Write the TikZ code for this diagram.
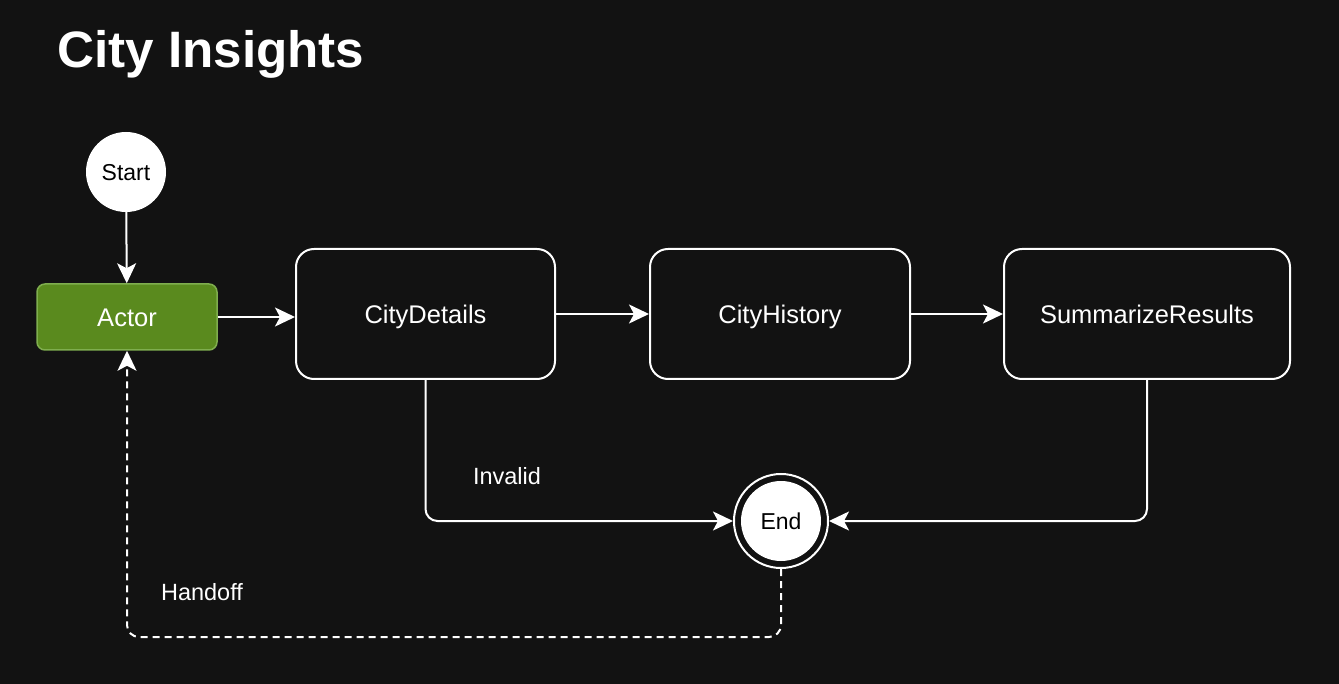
\documentclass[tikz,border=0pt]{standalone}
\usepackage{fontspec}
\setmainfont{Liberation Sans}
\usetikzlibrary{arrows.meta,positioning}

\definecolor{bgdark}{HTML}{121212}
\definecolor{actorfill}{HTML}{5A8A1E}
\definecolor{actorline}{HTML}{7FAE4E}

\tikzset{
  stepbox/.style={draw=white, line width=2pt, rounded corners=18pt, minimum height=130pt,
    text=white, text height=18.3pt, text depth=0pt, font=\fontsize{25.5}{30}\selectfont},
  roundnode/.style={circle, fill=white, inner sep=0pt, text=black, text height=16.5pt, text depth=0pt,
    font=\fontsize{23}{27}\selectfont},
  flow/.style={draw=white, line width=2pt, -{Stealth[length=20pt, width=19pt, inset=5pt]}},
  lbl/.style={text=white, text height=16.8pt, text depth=0pt, font=\fontsize{23.5}{28}\selectfont},
}

\begin{document}
\begin{tikzpicture}[x=1pt, y=-1pt]
\fill[bgdark] (0,0) rectangle (1339,684);
\node[anchor=base west, inner sep=0pt, text=white, font=\bfseries\fontsize{51.2}{60}\selectfont] (title) at (57,68) {City Insights};

% start and actor
\node[roundnode, minimum size=80pt] (start) at (126,172) {Start};
\node[draw=actorline, fill=actorfill, line width=1.5pt, rounded corners=8pt, minimum width=180pt, minimum height=66pt,
  text=white, text height=18.3pt, text depth=0pt, font=\fontsize{25.5}{30}\selectfont] (actor) at (127,317) {Actor};

% the three steps
\node[stepbox, minimum width=259pt] (details) at (425.5,314) {CityDetails};
\node[stepbox, minimum width=260pt] (history) at (780,314) {CityHistory};
\node[stepbox, minimum width=286pt] (summary) at (1147,314) {SummarizeResults};

% end, with its ring
\node[roundnode, minimum size=80pt] (end) at (781,521) {End};
\node[circle, draw=white, line width=2pt, inner sep=0pt, minimum size=94pt] (endring) at (end) {};

\draw[flow] (start) -- (actor);
\draw[flow] (actor.east) -- (actor.east -| details.west);
\draw[flow] (details) -- (history);
\draw[flow] (history) -- (summary);
\draw[flow, rounded corners=12pt] (details.south) |- (endring.west);
\draw[flow, rounded corners=12pt] (summary.south) |- (endring.east);
\draw[flow, dash pattern=on 7pt off 5pt, rounded corners=12pt] (endring.south) -- ++(0,68) -| (actor.south);

\node[lbl] (invalid) at (507,476) {Invalid};
\node[lbl] (handoff) at (202,592) {Handoff};
\end{tikzpicture}
\end{document}
